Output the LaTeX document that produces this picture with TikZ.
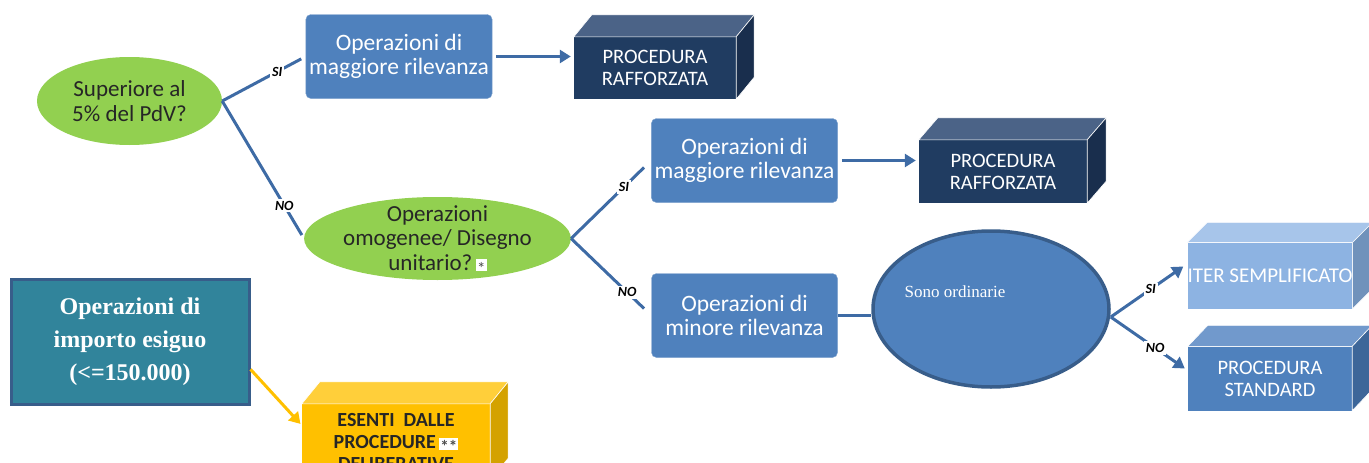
\documentclass[tikz,border=0pt]{standalone}
\usepackage{fontspec}
\setmainfont{Carlito}
\newfontfamily\tnr{Liberation Serif}
\usetikzlibrary{positioning,arrows.meta,calc,shapes.geometric}

\definecolor{verde}{HTML}{92D050}
\definecolor{blu}{HTML}{4F81BD}
\definecolor{linea}{HTML}{3E6BA5}
\definecolor{bordo}{HTML}{385D8A}
\definecolor{navy}{HTML}{203C61}
\definecolor{navytop}{HTML}{4B6387}
\definecolor{navyside}{HTML}{192E4D}
\definecolor{iterf}{HTML}{8DB3E2}
\definecolor{itert}{HTML}{A7C5EA}
\definecolor{iters}{HTML}{7092BB}
\definecolor{stdt}{HTML}{7199CC}
\definecolor{stds}{HTML}{3D6699}
\definecolor{giallo}{HTML}{FFC000}
\definecolor{giallot}{HTML}{FFCF3A}
\definecolor{giallos}{HTML}{D4A200}
\definecolor{teal}{HTML}{31849B}

\tikzset{
  decis/.style={ellipse, fill=verde, inner sep=0pt, align=center, text=black!85,
    font=\fontsize{23}{24.5}\selectfont},
  oper/.style={rectangle, rounded corners=5pt, fill=blu, draw=blu!75!white, text=white,
    minimum width=186pt, minimum height=84pt, align=center, font=\fontsize{23.5}{24.5}\selectfont},
  fronte/.style={rectangle, inner sep=0pt, align=center, text=white,
    font=\fontsize{20.5}{22}\selectfont},
  ramo/.style={draw=linea, line width=3pt},
  freccia/.style={ramo, -{Triangle[length=11pt,width=13pt]}},
  lbl/.style={fill=white, inner sep=2pt, font=\fontsize{14}{14}\selectfont\bfseries\itshape}
}
\setlength\fboxsep{1pt}
\newcommand\stella[1]{\,\colorbox{white}{\fontsize{17}{12}\selectfont\color{black!70}\raisebox{-4pt}[10pt][0pt]{#1}}}
% facce superiore e laterale di un blocco 3D: nodo, dx, dy, colore sopra, colore lato
\newcommand\faccia[5]{%
  \filldraw[fill=#4, draw=white, line width=0.6pt] (#1.north west) -- ++(#2,-#3) -- ($(#1.north east)+(#2,-#3)$) -- (#1.north east) -- cycle;
  \filldraw[fill=#5, draw=white, line width=0.6pt] (#1.north east) -- ++(#2,-#3) -- ($(#1.south east)+(#2,-#3)$) -- (#1.south east) -- cycle;}

\begin{document}
\begin{tikzpicture}[x=1pt,y=-1pt]
  \useasboundingbox (0,0) rectangle (1369,463);
  \clip (0,0) rectangle (1369,463);
  % domande
  \node[decis, minimum width=185pt, minimum height=88pt] (sup) at (129.5,101) {Superiore al\\5\% del PdV?};
  \node[decis, minimum width=265pt, minimum height=83pt, inner ysep=-14pt] (omog) at (437.5,238.5) {Operazioni\\omogenee/ Disegno\\unitario?\stella{*}};
  \node[ellipse, fill=blu, draw=bordo, line width=3.5pt, minimum width=236pt, minimum height=156pt] (ord) at (991,309) {};
  \node[text=white, font=\tnr\fontsize{17}{20}\selectfont] (ordtxt) at ($(ord.center)+(-36,-17)$) {Sono ordinarie};
  % operazioni
  \node[oper] (magg1) at (399,56.5) {Operazioni di\\maggiore rilevanza};
  \node[oper] (magg2) at (744.5,160.5) {Operazioni di\\maggiore rilevanza};
  \node[oper] (minore) at (744.5,315.5) {Operazioni di\\minore rilevanza};
  \node[rectangle, fill=teal, draw=bordo, line width=3pt, minimum width=238pt, minimum height=125pt,
    align=center, text=white, font=\tnr\bfseries\fontsize{24}{33}\selectfont] (esiguo) at (130,341.5)
    {Operazioni di\\importo esiguo\\(<=150.000)};
  % blocchi 3D
  \node[fronte, fill=navy, minimum width=162pt, minimum height=62pt] (raff1) at (655,68) {PROCEDURA\\RAFFORZATA};
  \faccia{raff1}{18}{22}{navytop}{navyside}
  \node[fronte, fill=navy, minimum width=168pt, minimum height=63pt] (raff2) at (1003,171.5) {PROCEDURA\\RAFFORZATA};
  \faccia{raff2}{19}{22}{navytop}{navyside}
  \node[fronte, fill=iterf, minimum width=164pt, minimum height=66pt, font=\fontsize{21}{22}\selectfont] (iter) at (1270,275.5) {ITER SEMPLIFICATO};
  \faccia{iter}{20}{20}{itert}{iters}
  \node[fronte, fill=blu, minimum width=164pt, minimum height=64pt] (std) at (1270,378.5) {PROCEDURA\\STANDARD};
  \faccia{std}{20}{21}{stdt}{stds}
  \node[fronte, fill=giallo, minimum width=188pt, minimum height=76pt, text=black!85,
    font=\bfseries\fontsize{20}{22}\selectfont] (esenti) at (396,442) {ESENTI\ \ DALLE\\PROCEDURE\stella{**}\\DELIBERATIVE};
  \faccia{esenti}{18}{22}{giallot}{giallos}
  % rami
  \coordinate (f1) at (sup.east);
  \coordinate (f2) at (omog.east);
  \coordinate (f3) at ($(ord.east)+(0,8)$);
  \draw[ramo, shorten >=5pt] (f1) -- node[lbl, pos=0.66] {SI} (magg1.west);
  \draw[ramo, shorten >=4pt] (f1) -- node[lbl, pos=0.76] {NO} (omog.west);
  \draw[ramo, shorten >=10pt] (f2) -- node[lbl, pos=0.66] {SI} (magg2.west);
  \draw[ramo, shorten >=10pt] (f2) -- node[lbl, pos=0.7] {NO} (minore.west);
  \draw[ramo] (minore.east) -- (minore.east -| ord.west);
  \draw[freccia] (f3) -- node[lbl, pos=0.55] {SI} ($(iter.west)+(-4,-9)$);
  \draw[freccia] (f3) -- node[lbl, pos=0.6] {NO} ($(std.west)+(-3,-10)$);
  \draw[freccia, shorten <=4pt, shorten >=3pt] (magg1.east) -- (magg1.east -| raff1.west);
  \draw[freccia, shorten <=4pt, shorten >=3pt] (magg2.east) -- (magg2.east -| raff2.west);
  \draw[freccia, draw=giallo, shorten >=2pt] (esiguo.-13) -- (esenti.170);
\end{tikzpicture}
\end{document}
